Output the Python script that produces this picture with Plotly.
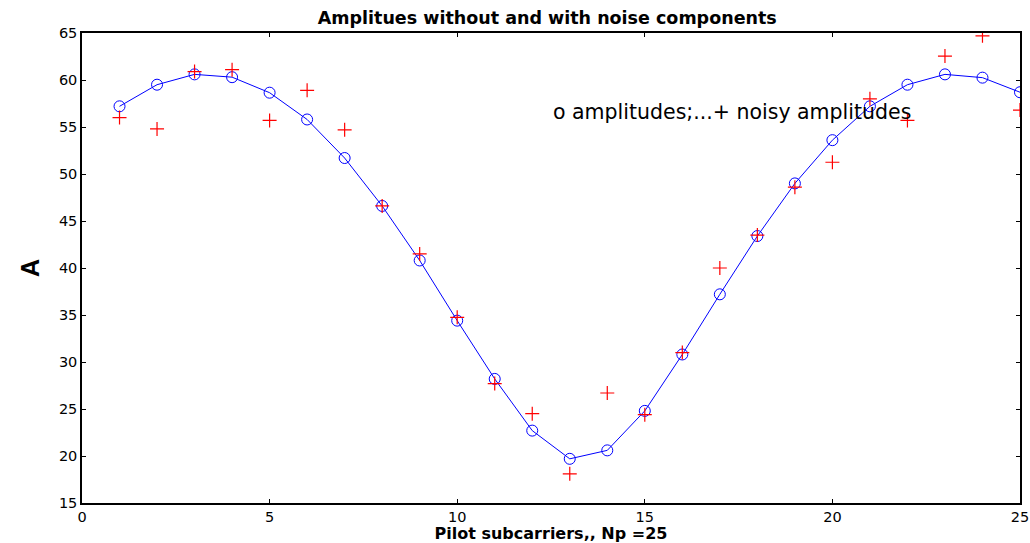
import plotly.graph_objects as go

x = list(range(1, 26))
amp = [57.2, 59.5, 60.6, 60.3, 58.65, 55.8, 51.7, 46.6, 40.8, 34.4, 28.2, 22.7, 19.7,
       20.6, 24.8, 30.8, 37.2, 43.4, 49.0, 53.6, 57.2, 59.5, 60.6, 60.25, 58.7]
noisy = [56.0, 54.8, 60.9, 61.1, 55.7, 58.9, 54.7, 46.6, 41.5, 34.75, 27.7, 24.5, 18.1,
         26.7, 24.4, 31.0, 40.0, 43.5, 48.6, 51.25, 58.0, 55.7, 62.55, 64.7, 56.8]
xticks = [0, 5, 10, 15, 20, 25]
yticks = [15, 20, 25, 30, 35, 40, 45, 50, 55, 60, 65]

FONT = "DejaVu Sans, Liberation Sans, Arial"

fig = go.Figure()
fig.add_trace(go.Scatter(x=x, y=amp, mode="lines+markers",
                         line=dict(color="#0000ff", width=1),
                         marker=dict(symbol="circle-open", size=11, color="#0000ff",
                                     line=dict(width=1, color="#0000ff"))))
fig.add_trace(go.Scatter(x=x, y=noisy, mode="markers",
                         marker=dict(symbol="cross-thin-open", size=10, color="#ff0000",
                                     line=dict(width=1.2, color="#ff0000"))))

fig.add_annotation(x=12.5, y=56.6, xref="x", yref="y", xanchor="left", yanchor="middle",
                   text="o amplitudes;...+ noisy amplitudes", showarrow=False,
                   font=dict(family=FONT, size=20.5, color="black"))

axis_common = dict(showgrid=False, zeroline=False, showline=True, linecolor="black",
                   linewidth=1.5, mirror="ticks", ticks="inside", ticklen=4,
                   tickcolor="black", automargin=False,
                   tickfont=dict(family=FONT, size=14.5, color="black"))
fig.update_layout(
    width=1030, height=543,
    margin=dict(l=82, r=10, t=33, b=40),
    paper_bgcolor="white", plot_bgcolor="white",
    showlegend=False,
    title=dict(text="<b>Amplitues without and with noise components</b>",
               x=0.496, xanchor="center", xref="paper", y=1 - 18 / 543, yref="container",
               yanchor="middle", automargin=False,
               font=dict(family=FONT, size=17.5, color="black")),
    xaxis=dict(range=[0, 25], tickvals=xticks, **axis_common,
               title=dict(text="<b>Pilot subcarriers,, Np =25</b>", standoff=2,
                          font=dict(family=FONT, size=16, color="black"))),
    yaxis=dict(range=[15, 65], tickvals=yticks, **axis_common,
               title=dict(text="<b>A</b>", standoff=12,
                          font=dict(family="Liberation Sans, Arial", size=25, color="black"))),
)

fig.write_html("out.html", config={"displayModeBar": False},
               post_script="document.body.style.margin='0';")
